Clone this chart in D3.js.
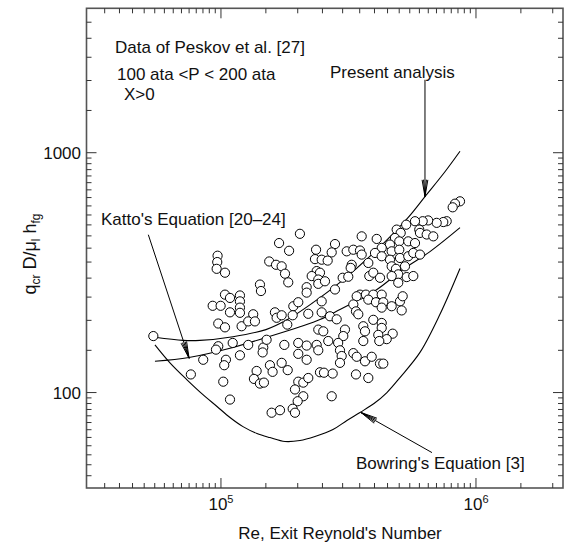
<!DOCTYPE html>
<html><head><meta charset="utf-8">
<script src="https://cdn.jsdelivr.net/npm/d3@7"></script>
<style>
body{margin:0;background:#fff;}
text{font-family:"Liberation Sans",Arial,Helvetica,sans-serif;fill:#111;}
</style>
</head><body>
<svg id="chart" width="565" height="547"></svg>
<script>
// ---- axes ----
const xDomain = [29700, 2194000];
const yDomain = [40, 4000];
const xMajorTicks = [1e5, 1e6];
const xMajorExponents = ["5", "6"];
const xMinorTicks = [35000,40000,45000,50000,55000,60000,65000,70000,75000,80000,85000,90000,95000,
  150000,200000,250000,300000,350000,400000,450000,500000,550000,600000,650000,700000,750000,800000,850000,900000,950000,
  1500000,2000000];
const yMajorTicks = [100, 1000];
const yMajorLabels = ["100", "1000"];
const yMinorTicks = [45,50,55,60,65,70,75,80,85,90,95,
  150,200,250,300,350,400,450,500,550,600,650,700,750,800,850,900,950,
  1500,2000,2500,3000,3500];

// ---- data points (Re, q) ----
const pointRe = [
 204000,169000,185000,236000,97000,96700,96200,103700,154600,164400,173000,178300,183600,233700,248300,262100,
 237300,244500,226900,240800,240800,255800,142200,143500,216800,216800,192200,201000,248300,103700,108500,118700,
 118700,92800,99700,118700,118700,108500,133800,162800,165300,173000,191100,220000,248300,267600,284300,97600,
 103700,120500,127900,135900,182000,240800,251900,54300,97600,95600,111200,127900,146500,151000,145700,177200,
 201000,216800,237300,240800,118700,104600,103000,85200,201000,216800,173000,182700,155600,159400,138000,134700,
 142200,147400,76200,102100,201000,210300,220000,195100,210300,199900,108500,244500,253500,158000,170400,191100,195100,
 865600,827400,810300,767600,744400,701300,649300,618000,576600,532600,599300,603100,640800,680100,488700,506700,
 481200,500300,542600,576600,460000,426900,408100,356300,280000,271800,311200,330400,350900,356300,378300,401800,
 426900,467100,500300,503500,542600,567800,603100,460000,467100,485600,526800,495700,535000,567800,467100,495700,
 325600,322600,300100,315700,381700,395700,420400,280000,350900,370200,395700,426900,340600,330400,338400,345600,
 378300,405300,433100,467100,503500,515900,426900,511300,395700,426900,426900,361500,367100,361500,413900,471400,
 446600,417700,306400,301800,288100,263500,292900,297400,292900,330400,340600,367100,390100,420400,433100,274200,
 338400,378300,271800
];
const pointQ = [
 459,420,390,394,372,350,328,316,352,341,336,313,288,360,358,355,
 321,316,306,296,284,291,282,265,275,261,229,238,240,256,248,254,
 240,230,230,226,215,216,212,216,205,210,210,213,216,208,202,194,
 187,189,198,198,192,183,180,172,156,151,161,158,154,166,147,158,
 161,157,158,150,143,137,130,137,145,137,133,124,130,122,123,114,
 109,110,119,111,111,110,115,103,96.5,92,93.5,121.5,121,82.4,84.4,85.6,82.4,
 627,613,592,518,514,510,522,518,518,501,478,463,456,448,478,463,
 441,427,427,420,414,401,437,448,416,384,388,394,391,376,347,382,
 370,388,394,364,370,382,376,358,336,328,336,311,303,306,306,287,
 341,331,301,304,306,316,301,269,256,256,256,256,252,233,218,212,
 244,238,238,229,240,252,226,220,201,195,186,189,180,164,174,176,
 167,164,183,172,161,164,150,142,133,146,141,135,141,132,132,120,
 119,115,96.5
];

// ---- curves ----
const presentRe = [55100,71000,82700,111500,150100,181500,229500,292900,401800,541500,631000,755700,865600];
const presentQ  = [170,165,165,171,183,201,237,288,387,536,656,833,1014];
const kattoRe = [55100,74900,108500,151400,204100,244500,292900,329400,408900,517300,660100,865600];
const kattoQ  = [135,140,153,170,188,201.5,222,237,269,326,387,487];
const bowringRe = [55100,63100,73600,85000,96500,108500,122000,138400,155600,178300,204100,233700,274900,311800,350900,398200,447500,503500,603100,722500,865600];
const bowringQ  = [158,133,113,98,87.5,78.7,72.1,67.5,64.9,62.5,63.1,65.6,70.1,76.5,82.6,90,100,115.5,147,212,329];

// ---- annotations ----
const labels = [
  {t:"Data of Peskov et al. [27]", x:115, y:53},
  {t:"100 ata <P < 200 ata", x:117, y:80},
  {t:"X>0", x:124, y:100},
  {t:"Present analysis", x:330, y:78},
  {t:"Katto's Equation [20\u201324]", x:101, y:225},
  {t:"Bowring's Equation [3]", x:356, y:469}
];
const arrowFromRe = [631000, 51900, 672000];
const arrowFromQ  = [2014, 455, 56.2];
const arrowToRe   = [631000, 75000, 354000];
const arrowToQ    = [656, 139, 82.6];

// ---- layout ----
const W = 565, H = 547;
const m = {left:86.5, right:2, top:8.3, bottom:59};
const x = d3.scaleLog().domain(xDomain).range([m.left, W - m.right]);
const y = d3.scaleLog().domain(yDomain).range([H - m.bottom, m.top]);
const svg = d3.select("#chart");
const FS = 17;

// frame
svg.append("rect").attr("x", m.left).attr("y", m.top)
  .attr("width", W - m.right - m.left).attr("height", H - m.bottom - m.top)
  .attr("fill", "none").attr("stroke", "#555").attr("stroke-width", 1.6);

const tk = svg.append("g").attr("stroke", "#333").attr("stroke-width", 1);
function xTicks(vals, len) {
  vals.forEach(v => {
    const px = x(v);
    tk.append("line").attr("x1", px).attr("x2", px).attr("y1", H - m.bottom).attr("y2", H - m.bottom - len);
    tk.append("line").attr("x1", px).attr("x2", px).attr("y1", m.top).attr("y2", m.top + len);
  });
}
function yTicks(vals, len) {
  vals.forEach(v => {
    const py = y(v);
    tk.append("line").attr("y1", py).attr("y2", py).attr("x1", m.left).attr("x2", m.left + len);
    tk.append("line").attr("y1", py).attr("y2", py).attr("x1", W - m.right).attr("x2", W - m.right - len);
  });
}
xTicks(xMajorTicks, 10); xTicks(xMinorTicks, 5);
yTicks(yMajorTicks, 10); yTicks(yMinorTicks, 5);

// x tick labels
xMajorTicks.forEach((v, i) => {
  const t = svg.append("text").attr("x", x(v)).attr("y", 510).attr("text-anchor", "middle").attr("font-size", FS);
  t.append("tspan").text("10");
  t.append("tspan").attr("dy", -7).attr("font-size", 11).text(xMajorExponents[i]);
});
// y tick labels
yMajorTicks.forEach((v, i) => {
  svg.append("text").attr("x", 81).attr("y", y(v)).attr("dy", "0.36em")
    .attr("text-anchor", "end").attr("font-size", FS).text(yMajorLabels[i]);
});
// axis titles
svg.append("text").attr("x", 340).attr("y", 539).attr("text-anchor", "middle")
  .attr("font-size", FS).text("Re, Exit Reynold's Number");
const yt = svg.append("text").attr("transform", "translate(36,254) rotate(-90)")
  .attr("text-anchor", "middle").attr("font-size", 18);
yt.append("tspan").text("q");
yt.append("tspan").attr("dy", 4).attr("font-size", 12).text("cr");
yt.append("tspan").attr("dy", -4).text(" D/\u03bc");
yt.append("tspan").attr("dy", 4).attr("font-size", 12).text("l");
yt.append("tspan").attr("dy", -4).text(" h");
yt.append("tspan").attr("dy", 4).attr("font-size", 12).text("fg");

// curves
const line = d3.line().x(d => x(d[0])).y(d => y(d[1])).curve(d3.curveCatmullRom.alpha(0.5));
[[presentRe, presentQ], [kattoRe, kattoQ], [bowringRe, bowringQ]].forEach(([rs, qs]) => {
  svg.append("path").datum(rs.map((r, i) => [r, qs[i]])).attr("d", line)
    .attr("fill", "none").attr("stroke", "#000").attr("stroke-width", 1.1);
});

// points
svg.append("g").selectAll("circle").data(pointRe.map((r, i) => [r, pointQ[i]])).join("circle")
  .attr("cx", d => x(d[0])).attr("cy", d => y(d[1])).attr("r", 4.6)
  .attr("fill", "#fff").attr("stroke", "#000").attr("stroke-width", 1);

// annotation text
labels.forEach(l => svg.append("text").attr("x", l.x).attr("y", l.y).attr("font-size", FS).text(l.t));

// arrows
arrowFromRe.forEach((_, i) => {
  const x1 = x(arrowFromRe[i]), y1 = y(arrowFromQ[i]), x2 = x(arrowToRe[i]), y2 = y(arrowToQ[i]);
  const g = svg.append("g").attr("stroke", "#000").attr("stroke-width", 1).attr("fill", "none");
  g.append("line").attr("x1", x1).attr("y1", y1).attr("x2", x2).attr("y2", y2);
  const ang = Math.atan2(y1 - y2, x1 - x2);
  const L = 17, a = 0.17;
  [ -a, a, -a/2, a/2 ].forEach(da => {
    g.append("line").attr("x1", x2).attr("y1", y2)
      .attr("x2", x2 + L * Math.cos(ang + da)).attr("y2", y2 + L * Math.sin(ang + da));
  });
});
</script>
</body></html>
